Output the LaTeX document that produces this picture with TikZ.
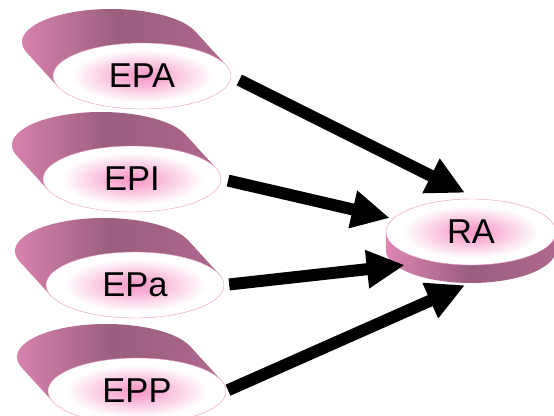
\documentclass[tikz,border=0pt]{standalone}
\usepackage{fontspec}
\setmainfont{Liberation Sans}
\usetikzlibrary{shapes.geometric,arrows.meta,backgrounds}
\definecolor{glowpink}{RGB}{246,150,198}
\definecolor{rimpink}{RGB}{230,150,190}
\definecolor{sideleft}{RGB}{222,134,180}
\definecolor{sidemid}{RGB}{154,94,126}
\definecolor{sideright}{RGB}{174,104,142}
\pgfdeclareradialshading{glow}{\pgfpoint{0bp}{0bp}}{color(0bp)=(glowpink); color(6bp)=(glowpink!75!white); color(20bp)=(white); color(50bp)=(white)}
\begin{document}
\begin{tikzpicture}[x=1pt,y=1pt,
  disc/.style={ellipse, minimum width=178, minimum height=66, inner sep=0pt,
    draw=rimpink, line width=0.4pt, shade, shading=glow,
    font=\fontsize{34.5}{40}\selectfont},
  side/.style={left color=sideleft, right color=sideright, middle color=sidemid},
  fat/.style={line width=12pt, -{Triangle[length=38pt,width=36pt]}}]
\useasboundingbox (0,-415) rectangle (554,0);
\clip (0,-415) rectangle (554,0);
\node[disc] (epa) at (142,-76) {EPA};
\node[disc] (epi) at (132,-179) {EPI};
\node[disc] (epsa) at (135,-285) {EPa};
\node[disc] (epp) at (137,-391) {EPP};
\node[disc, minimum width=170] (ra) at (471,-232) {RA};

\begin{scope}[on background layer]
\foreach \n in {epa,epi,epsa,epp}
  \shade[side] (\n.center) ++(18.7:89 and 33) -- ++(-31,34)
    arc[start angle=18.7, end angle=198.7, x radius=89, y radius=33] -- ++(31,-34) -- cycle;
\shade[side] (ra.west) -- ++(0,-18)
  arc[start angle=180, end angle=360, x radius=85, y radius=33] -- (ra.east) -- cycle;
\end{scope}

\draw[fat, shorten <=9pt] (epa.east) -- ([shift={(-6,6)}]ra.north);
\draw[fat, shorten <=7pt] (epi.east) -- ([shift={(4,14)}]ra.west);
\draw[fat, shorten <=5pt] (epsa.east) -- ([shift={(19,-33)}]ra.west);
\draw[fat, shorten <=2pt] (epp.east) -- ([shift={(-6,-20)}]ra.south);
\end{tikzpicture}
\end{document}
